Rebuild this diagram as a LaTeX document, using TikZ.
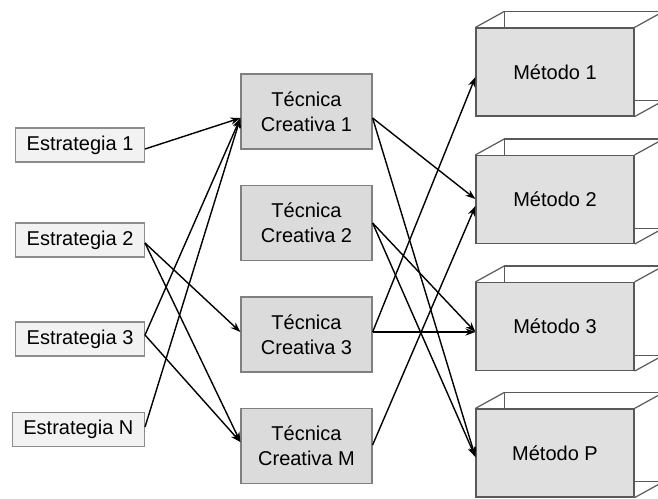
\documentclass[tikz,border=0pt]{standalone}
\usepackage{fontspec}
\setmainfont{Liberation Sans}
\usetikzlibrary{arrows.meta,backgrounds}
\begin{document}
\begin{tikzpicture}[x=0.5pt,y=-0.5pt,
  font=\fontsize{10}{12.5}\selectfont,
  stratbox/.style={draw=black!45, fill=black!5, line width=0.6pt,
    minimum height=17pt, inner xsep=5.5pt, inner ysep=0pt, anchor=east},
  techbox/.style={draw=black!50, fill=black!14, line width=0.6pt,
    minimum width=65.5pt, minimum height=37.5pt, align=center, inner sep=0pt},
  methbox/.style={draw=black!65, fill=black!12, line width=0.6pt,
    minimum width=79pt, minimum height=44pt, inner sep=0pt},
  backedge/.style={draw=black!65, line width=0.6pt},
  link/.style={-{Stealth[length=5pt,width=3.6pt]}, line width=0.7pt, black}
]
\useasboundingbox (0,0) rectangle (658,498);

% strategies
\node[stratbox] (E1) at (145,145)   {Estrategia 1};
\node[stratbox] (E2) at (145,240)   {Estrategia 2};
\node[stratbox] (E3) at (145,339)   {Estrategia 3};
\node[stratbox] (EN) at (145,429.5) {Estrategia N};

% creative techniques
\node[techbox] (T1) at (306.5,111.5) {Técnica\\Creativa 1};
\node[techbox] (T2) at (306.5,223)   {Técnica\\Creativa 2};
\node[techbox] (T3) at (306.5,334.5) {Técnica\\Creativa 3};
\node[techbox] (TM) at (306.5,446)   {Técnica\\Creativa M};

% methods (front faces)
\node[methbox] (M1) at (555,72)    {Método 1};
\node[methbox] (M2) at (555,199.5) {Método 2};
\node[methbox] (M3) at (555,326.5) {Método 3};
\node[methbox] (MP) at (555,453)   {Método P};

% open-box depth behind each method
\begin{scope}[on background layer]
  \foreach \m in {M1,M2,M3,MP} {
    \draw[backedge, fill=white] ([shift={(29,-16)}]\m.north west)
      rectangle ([shift={(29,-16)}]\m.south east);
    \draw[backedge] (\m.north west) -- ++(29,-16)
                    (\m.north east) -- ++(29,-16)
                    (\m.south east) -- ++(29,-16);
  }
\end{scope}

% connector ends
\coordinate (e1o) at ([yshift=-2pt]E1.east);
\coordinate (e2o) at ([yshift=-1.5pt]E2.east);
\coordinate (e3o) at ([yshift=2pt]E3.east);
\coordinate (eno) at ([yshift=1.25pt]EN.east);
\coordinate (t1i) at ([yshift=-3.25pt]T1.west);
\coordinate (t3i) at ([yshift=1.25pt]T3.west);
\coordinate (tmi) at ([yshift=2pt]TM.west);
\coordinate (t1o) at ([yshift=-3.25pt]T1.east);
\coordinate (t2o) at (T2.east);
\coordinate (t3o) at ([yshift=1.25pt]T3.east);
\coordinate (tmo) at ([yshift=0.5pt]TM.east);
\coordinate (m1i) at ([yshift=-2.5pt]M1.west);
\coordinate (m2a) at ([yshift=0.25pt]M2.west);
\coordinate (m2b) at ([yshift=-3.25pt]M2.west);
\coordinate (m3i) at ([yshift=-2.75pt]M3.west);
\coordinate (mpi) at ([yshift=-2pt]MP.west);

% strategies to techniques
\draw[link] (e1o) -- (t1i);
\draw[link] (e2o) -- (t3i);
\draw[link] (e2o) -- (tmi);
\draw[link] (e3o) -- (t1i);
\draw[link] (e3o) -- (tmi);
\draw[link] (eno) -- (t1i);

% techniques to methods
\draw[link] (t1o) -- (m2a);
\draw[link] (t1o) -- (mpi);
\draw[link] (t2o) -- (m3i);
\draw[link] (t2o) -- (mpi);
\draw[link] (t3o) -- (m1i);
\draw[link] (t3o) -- (m3i);
\draw[link] (tmo) -- (m2b);
\end{tikzpicture}
\end{document}
